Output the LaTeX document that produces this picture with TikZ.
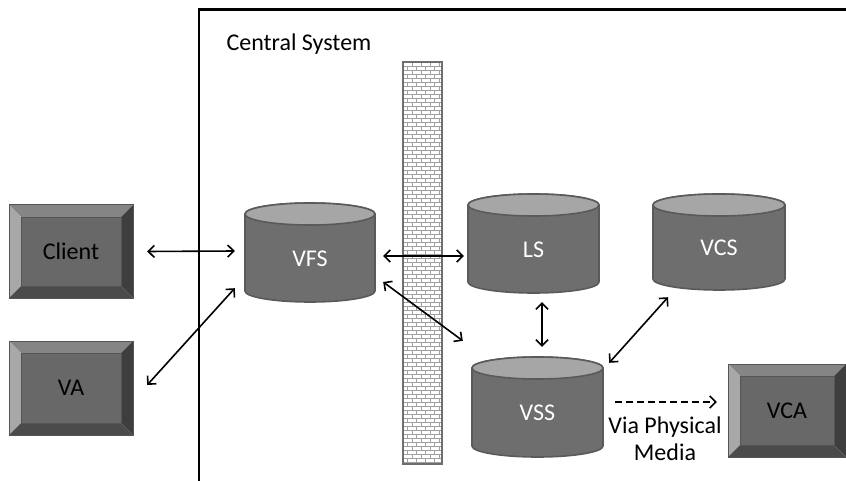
\documentclass[tikz,border=0pt]{standalone}
\usepackage{fontspec}
\setmainfont{Carlito}
\usetikzlibrary{arrows.meta,calc}
\definecolor{cylbody}{HTML}{6E6E6E}
\definecolor{cyltop}{HTML}{A6A6A6}
\definecolor{cylline}{HTML}{5A5A5A}
\definecolor{bvtop}{HTML}{858585}
\definecolor{bvleft}{HTML}{A8A8A8}
\definecolor{bvright}{HTML}{3E3E3E}
\definecolor{bvbottom}{HTML}{4B4B4B}
\definecolor{bvface}{HTML}{686868}
\definecolor{bvline}{HTML}{555555}
\definecolor{brick}{HTML}{A0A0A0}
\definecolor{wallline}{HTML}{6E6E6E}
\tikzset{
 conn/.style={line width=1.6pt, {Straight Barb[length=6pt,width=12pt]}-{Straight Barb[length=6pt,width=12pt]}},
 dashconn/.style={line width=1.6pt, dash pattern=on 7pt off 4pt, -{Straight Barb[length=6pt,width=12pt]}},
 lbl/.style={font=\fontsize{24}{27}\selectfont},
 boxnode/.style={lbl, text=black, inner sep=0pt},
 cylnode/.style={inner sep=0pt},
 cyltext/.style={lbl, text=white, inner sep=0pt},
}
\newcommand\bevelbox[6]{%
 \fill[bvtop] (#2,#3) -- (#4,#3) -- (#4-12,#3+12) -- (#2+12,#3+12) -- cycle;
 \fill[bvleft] (#2,#3) -- (#2+12,#3+12) -- (#2+12,#5-12) -- (#2,#5) -- cycle;
 \fill[bvright] (#4,#3) -- (#4,#5) -- (#4-12,#5-12) -- (#4-12,#3+12) -- cycle;
 \fill[bvbottom] (#2,#5) -- (#4,#5) -- (#4-12,#5-12) -- (#2+12,#5-12) -- cycle;
 \filldraw[fill=bvface, draw=bvline, line width=0.8pt] (#2+12,#3+12) rectangle (#4-12,#5-12);
 \draw[bvline, line width=1pt] (#2,#3) rectangle (#4,#5);
 \pgfmathsetmacro\bw{#4-#2}\pgfmathsetmacro\bh{#5-#3}
 \node[boxnode, minimum width=\bw pt, minimum height=\bh pt] (#1) at ({(#2+#4)/2},{(#3+#5)/2}) {#6};
}
\newcommand\cylinder[6]{%
 \pgfmathsetmacro\crx{(#3-#2)/2}
 \pgfmathsetmacro\ccx{(#2+#3)/2}
 \pgfmathsetmacro\ccy{(#4+#5)/2}
 \pgfmathsetmacro\ch{#5-#4}
 \pgfmathsetmacro\cw{#3-#2}
 \filldraw[fill=cylbody, draw=cylline, line width=1.6pt] (#2,#4+11) -- (#2,#5-11) arc[start angle=180, end angle=0, x radius=\crx, y radius=11] -- (#3,#4+11) arc[start angle=0, end angle=-180, x radius=\crx, y radius=11] -- cycle;
 \filldraw[fill=cyltop, draw=cylline, line width=1.6pt] (\ccx,#4+11) ellipse[x radius=\crx, y radius=11];
 \node[cylnode, minimum width=\cw pt, minimum height=\ch pt] (#1) at (\ccx,\ccy) {};
 \node[cyltext] (#1-text) at (\ccx,\ccy+6) {#6};
}
\begin{document}
\begin{tikzpicture}[x=1pt,y=-1pt]
\useasboundingbox (0,0) rectangle (846,481);
% frame
\draw[line width=3pt] (846,10) -- (198,10);
\draw[line width=2pt] (199,9) -- (199,481);
\node[lbl, anchor=west] (central) at (223,44) {Central System};
% wall
\begin{scope}
\clip (403,62) rectangle (442,464);
\foreach \i in {0,...,101} {
 \pgfmathsetmacro\yy{62+4*\i}
 \pgfmathsetmacro\off{mod(\i,2)*4.5}
 \draw[brick, line width=0.9pt] (403,\yy) -- (442,\yy);
 \foreach \k in {0,...,5} {\draw[brick, line width=0.9pt] (403+\off+9*\k,\yy) -- (403+\off+9*\k,\yy+4);}
}
\end{scope}
\draw[wallline, line width=2.5pt] (403,62) rectangle (442,464);
% boxes
\bevelbox{Client}{9}{205}{133}{298}{Client}
\bevelbox{VA}{9}{341}{133}{435}{VA}
\bevelbox{VCA}{728}{364}{846}{457}{VCA}
% cylinders
\cylinder{VFS}{245}{375}{203}{302}{VFS}
\cylinder{LS}{468}{599}{194}{293}{LS}
\cylinder{VCS}{653}{785}{194}{290}{VCS}
\cylinder{VSS}{472}{603}{357}{457}{VSS}
% connectors
\draw[conn] ($(Client.east)+(14,0)$) -- ($(VFS.west)+(-10,-1.5)$);
\draw[conn] ($(VA.east)+(14,-3)$) -- ($(VFS.south west)+(-10,-14)$);
\draw[conn] ($(VFS.east)+(8,3.5)$) -- ($(LS.west)+(-4,12.5)$);
\draw[conn] ($(VFS.east)+(8,29.5)$) -- ($(VSS.north west)+(-9,-16)$);
\draw[conn] ($(LS.south)+(8.5,9)$) -- ($(VSS.north)+(4.5,-10)$);
\draw[conn] ($(VCS.south)+(-51,7)$) -- ($(VSS.north east)+(6,6)$);
\draw[dashconn] ($(VSS.east)+(12,-5)$) -- ($(VCA.west)+(-11,-8.5)$);
\node[lbl, align=center] (via) at (665,439) {Via Physical\\Media};
\end{tikzpicture}
\end{document}
